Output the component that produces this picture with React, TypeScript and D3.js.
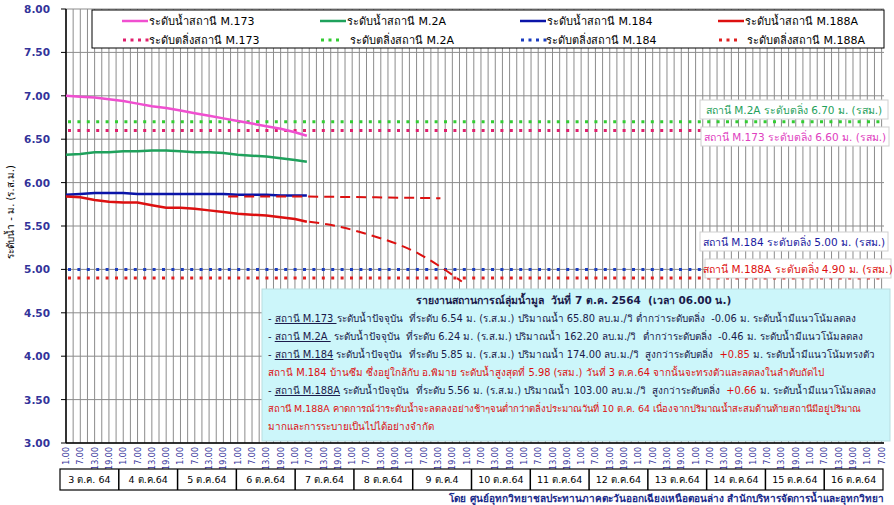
import React from "react";
import * as d3 from "d3";

// ---------- data ----------
// observed levels every 6 hours from 3 Oct 01:00, last value at 07 Oct 06:00
const obsHours = [0, 6, 12, 18, 24, 30, 36, 42, 48, 54, 60, 66, 72, 78, 84, 90, 96, 101];
const m173 = [7.0, 6.99, 6.98, 6.96, 6.94, 6.91, 6.88, 6.86, 6.83, 6.8, 6.77, 6.74, 6.71, 6.68, 6.65, 6.62, 6.58, 6.54];
const m2a = [6.32, 6.33, 6.35, 6.35, 6.36, 6.36, 6.37, 6.37, 6.36, 6.35, 6.35, 6.34, 6.32, 6.31, 6.3, 6.28, 6.26, 6.24];
const m184 = [5.86, 5.87, 5.88, 5.88, 5.88, 5.87, 5.87, 5.87, 5.87, 5.87, 5.87, 5.87, 5.86, 5.86, 5.86, 5.85, 5.85, 5.85];
const m188a = [5.84, 5.83, 5.8, 5.78, 5.77, 5.77, 5.74, 5.71, 5.71, 5.7, 5.68, 5.66, 5.64, 5.63, 5.62, 5.6, 5.58, 5.55];

// forecasts
const fc184Hours = [68, 100, 130, 157];
const fc184 = [5.84, 5.84, 5.83, 5.82];
const fc188Hours = [102, 115, 127, 140, 148, 157, 166];
const fc188 = [5.55, 5.49, 5.4, 5.28, 5.18, 5.03, 4.86];

// bank levels
const bank = { m173: 6.6, m2a: 6.7, m184: 5.0, m188a: 4.9 };

const yTicks = [3.0, 3.5, 4.0, 4.5, 5.0, 5.5, 6.0, 6.5, 7.0, 7.5, 8.0];
const hourLabels = ["1.00", "7.00", "13.00", "19.00"];
const dayLabels = ["3 ต.ค. 64", "4 ต.ค.64", "5 ต.ค.64", "6 ต.ค.64", "7 ต.ค.64", "8 ต.ค.64", "9 ต.ค.4", "10 ต.ค.64", "11 ต.ค.64", "12 ต.ค.64", "13 ต.ค.64", "14 ต.ค.64", "15 ต.ค.64", "16 ต.ค.64"];

const W = 894, H = 505;
const L = 66, R = 884, T = 9, B = 443;
const FONT = "Tahoma, 'DejaVu Sans', 'Noto Sans', sans-serif";

const C = {
  pink: "#f04fd0",
  pinkDot: "#e0206e",
  green: "#1fa15c",
  greenDot: "#33cc33",
  blue: "#0a14a8",
  blueDot: "#1a3cc0",
  red: "#dd1010",
  redDot: "#e02020",
  axisText: "#33339a",
};

export default function App() {
  const x = d3.scaleLinear().domain([0, 343]).range([L, R]);
  const y = d3.scaleLinear().domain([3, 8]).range([B, T]);
  const line = (hs: number[], vs: number[]) =>
    d3.line<number>().x((_, i) => x(hs[i])).y((v) => y(v))(vs) || "";
  const smooth = (hs: number[], vs: number[]) =>
    d3.line<number>().x((_, i) => x(hs[i])).y((v) => y(v)).curve(d3.curveMonotoneX)(vs) || "";

  const gridHours = d3.range(0, 344, 3);
  const labelHours = d3.range(0, 58).map((i) => i * 6);

  const dayX0 = 60, dayX1 = 883;
  const dayW = (dayX1 - dayX0) / dayLabels.length;

  const legend = [
    { sx: 122, name: "M.173", c: C.pink, dc: C.pinkDot, dots: 4, tx2: 149 },
    { sx: 320, name: "M.2A", c: C.green, dc: C.greenDot, dots: 3, tx2: 350 },
    { sx: 520, name: "M.184", c: C.blue, dc: C.blueDot, dots: 4, tx2: 546 },
    { sx: 718, name: "M.188A", c: C.red, dc: C.redDot, dots: 3, tx2: 747 },
  ];

  const bankLabels = [
    { x: 700, y: 100, w: 188, text: "สถานี M.2A ระดับตลิ่ง 6.70 ม. (รสม.)", c: C.green },
    { x: 701, y: 127, w: 188, text: "สถานี M.173 ระดับตลิ่ง 6.60 ม. (รสม.)", c: "#e040c0" },
    { x: 700, y: 232, w: 188, text: "สถานี M.184 ระดับตลิ่ง 5.00 ม. (รสม.)", c: "#1a1aa0" },
    { x: 705, y: 259, w: 186, text: "สถานี M.188A ระดับตลิ่ง 4.90 ม. (รสม.)", c: C.red },
  ];

  const dark = "#1a1a4a";
  const tx = 268;

  return (
    <svg width={W} height={H} style={{ position: "fixed", left: 0, top: 0, background: "#fff" }} fontFamily={FONT}>
      <rect x={0} y={0} width={W} height={H} fill="#fff" />
      {/* grid */}
      {gridHours.map((h) => (
        <line key={"v" + h} x1={x(h)} x2={x(h)} y1={T} y2={B} stroke="#8c8c8c" strokeWidth={1} />
      ))}
      {yTicks.map((t) => (
        <line key={"h" + t} x1={L} x2={R} y1={y(t)} y2={y(t)} stroke="#8c8c8c" strokeWidth={1} />
      ))}
      {/* axes */}
      <line x1={L} x2={L} y1={T} y2={B} stroke="#000" strokeWidth={1.5} />
      <line x1={L} x2={R} y1={B} y2={B} stroke="#000" strokeWidth={1.5} />
      {yTicks.map((t) => (
        <g key={"yt" + t}>
          <line x1={L - 5} x2={L} y1={y(t)} y2={y(t)} stroke="#000" />
          <text x={50} y={y(t) + 4} textAnchor="end" fontSize={10.5} fill={C.axisText} fontWeight="bold">
            {t.toFixed(2)}
          </text>
        </g>
      ))}
      {labelHours.map((h, i) => (
        <text
          key={"xl" + h}
          transform={`translate(${x(h) + 3},447) rotate(-90)`}
          textAnchor="end"
          fontSize={8}
          fill={C.axisText}
        >
          {hourLabels[i % 4]}
        </text>
      ))}
      {/* day boxes */}
      <rect x={dayX0} y={469} width={dayX1 - dayX0} height={21} fill="#fff" stroke="#000" strokeWidth={1.2} />
      {dayLabels.map((d, i) => (
        <g key={d}>
          {i > 0 && <line x1={dayX0 + i * dayW} x2={dayX0 + i * dayW} y1={469} y2={490} stroke="#000" strokeWidth={1.5} />}
          <text x={dayX0 + (i + 0.5) * dayW} y={483} textAnchor="middle" fontSize={9.5} fill="#000">
            {d}
          </text>
        </g>
      ))}
      <text transform={`translate(14,212) rotate(-90)`} textAnchor="middle" fontSize={10} fill="#000">
        ระดับน้ำ - ม. (ร.ส.ม.)
      </text>

      {/* bank lines */}
      {[
        [bank.m2a, C.greenDot],
        [bank.m173, C.pinkDot],
        [bank.m184, C.blueDot],
        [bank.m188a, C.redDot],
      ].map(([v, c]) => (
        <line key={"b" + v} x1={L + 2} x2={R} y1={y(v as number)} y2={y(v as number)} stroke={c as string} strokeWidth={3} strokeDasharray="3 6.4" />
      ))}

      {/* observed series */}
      <path d={line(obsHours, m173)} fill="none" stroke={C.pink} strokeWidth={2.5} />
      <path d={line(obsHours, m2a)} fill="none" stroke={C.green} strokeWidth={2.5} />
      <path d={line(obsHours, m184)} fill="none" stroke={C.blue} strokeWidth={2.5} />
      <path d={line(obsHours, m188a)} fill="none" stroke={C.red} strokeWidth={2.5} />
      {/* forecasts */}
      <path d={line(fc184Hours, fc184)} fill="none" stroke={C.red} strokeWidth={2} strokeDasharray="10 6" />
      <path d={smooth(fc188Hours, fc188)} fill="none" stroke={C.red} strokeWidth={2} strokeDasharray="10 6" />

      {/* legend */}
      <rect x={92} y={10} width={792} height={38} fill="#fff" stroke="#000" strokeWidth={1} />
      {legend.map((l) => (
        <g key={l.name}>
          <line x1={l.sx} x2={l.sx + 26} y1={21} y2={21} stroke={l.c} strokeWidth={2.5} />
          <text x={l.sx + 27} y={25} fontSize={11} fill="#000">{"ระดับน้ำสถานี " + l.name}</text>
          {d3.range(l.dots).map((k) => (
            <rect key={k} x={l.sx + 1 + k * 7.5} y={38.5} width={3} height={3} fill={l.dc} />
          ))}
          <text x={l.tx2} y={44} fontSize={11} fill="#000">{"ระดับตลิ่งสถานี " + l.name}</text>
        </g>
      ))}

      {/* bank labels */}
      {bankLabels.map((b) => (
        <g key={b.text}>
          <rect x={b.x} y={b.y} width={b.w} height={19} fill="#fff" stroke="#d0d0d0" strokeWidth={1} />
          <text x={b.x + b.w / 2} y={b.y + 13.5} textAnchor="middle" fontSize={10.5} fill={b.c}>{b.text}</text>
        </g>
      ))}

      {/* report box */}
      <rect x={262} y={289} width={628} height={152} fill="#ccf6fa" stroke="#b8dde0" strokeWidth={1} />
      <g fontSize={9.9} fill={dark}>
        <text x={416} y={304} fontWeight="bold" fontSize={10.5} xmlSpace="preserve">
          {"รายงานสถานการณ์ลุ่มน้ำมูล  วันที่ 7 ต.ค. 2564  (เวลา 06.00 น.)"}
        </text>
        <text x={tx} y={322} xmlSpace="preserve">
          {"- "}<tspan textDecoration="underline">สถานี M.173 </tspan>
          {"ระดับน้ำปัจจุบัน  ที่ระดับ 6.54 ม. (ร.ส.ม.) ปริมาณน้ำ 65.80 ลบ.ม./วิ ต่ำกว่าระดับตลิ่ง  -0.06 ม. ระดับน้ำมีแนวโน้มลดลง"}
        </text>
        <text x={tx} y={340} xmlSpace="preserve">
          {"- "}<tspan textDecoration="underline">สถานี M.2A </tspan>
          {" ระดับน้ำปัจจุบัน  ที่ระดับ 6.24 ม. (ร.ส.ม.) ปริมาณน้ำ 162.20 ลบ.ม./วิ  ต่ำกว่าระดับตลิ่ง  -0.46 ม. ระดับน้ำมีแนวโน้มลดลง"}
        </text>
        <text x={tx} y={358} xmlSpace="preserve">
          {"- "}<tspan textDecoration="underline">สถานี M.184</tspan>
          {" ระดับน้ำปัจจุบัน  ที่ระดับ 5.85 ม. (ร.ส.ม.) ปริมาณน้ำ 174.00 ลบ.ม./วิ  สูงกว่าระดับตลิ่ง  "}
          <tspan fill={C.red}>+0.85</tspan>
          {" ม. ระดับน้ำมีแนวโน้มทรงตัว"}
        </text>
        <text x={tx} y={376} fill={C.red}>
          สถานี M.184 บ้านซึม ซึ่งอยู่ใกล้กับ อ.พิมาย ระดับน้ำสูงสุดที่ 5.98 (รสม.) วันที่ 3 ต.ค.64 จากนั้นจะทรงตัวและลดลงในลำดับถัดไป
        </text>
        <text x={tx} y={394} xmlSpace="preserve">
          {"- "}<tspan textDecoration="underline">สถานี M.188A</tspan>
          {" ระดับน้ำปัจจุบัน  ที่ระดับ 5.56 ม. (ร.ส.ม.) ปริมาณน้ำ 103.00 ลบ.ม./วิ  สูงกว่าระดับตลิ่ง  "}
          <tspan fill={C.red}>+0.66</tspan>
          {" ม. ระดับน้ำมีแนวโน้มลดลง"}
        </text>
        <text x={tx} y={412} fill={C.red} fontSize={9.5}>
          สถานี M.188A คาดการณ์ว่าระดับน้ำจะลดลงอย่างช้าๆจนต่ำกว่าตลิ่งประมาณวันที่ 10 ต.ค. 64 เนื่องจากปริมาณน้ำสะสมด้านท้ายสถานีมีอยู่ปริมาณ
        </text>
        <text x={tx} y={430} fill={C.red}>
          มากและการระบายเป็นไปได้อย่างจำกัด
        </text>
      </g>

      {/* footer */}
      <text x={884} y={502} textAnchor="end" fontSize={10} fontWeight="bold" fill="#1a2a8a">
        โดย ศูนย์อุทกวิทยาชลประทานภาคตะวันออกเฉียงเหนือตอนล่าง สำนักบริหารจัดการน้ำและอุทกวิทยา
      </text>
    </svg>
  );
}
